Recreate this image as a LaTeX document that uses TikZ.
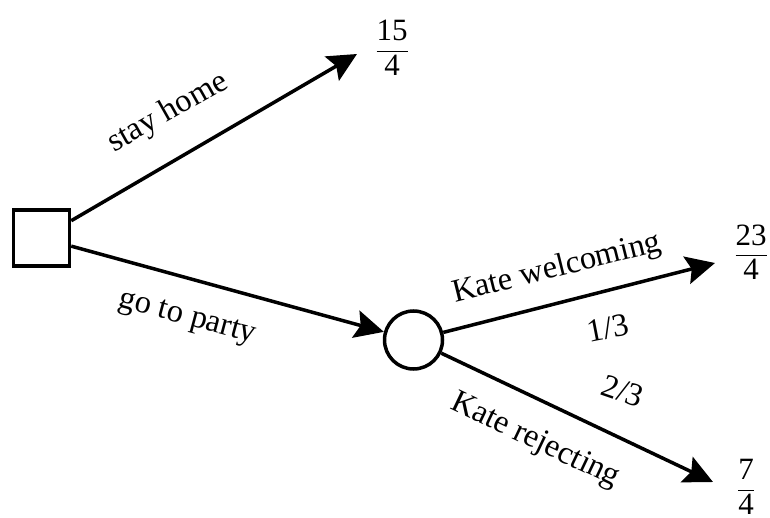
\documentclass[tikz,border=0pt]{standalone}
\usepackage{amsmath}
\usepackage{fontspec}
\setmainfont{Liberation Serif}
\usetikzlibrary{arrows.meta}
\begin{document}
\begin{tikzpicture}[x=1pt,y=1pt,
  every node/.style={font=\fontsize{32.5}{39}\selectfont},
  link/.style={line width=3.5pt},
  arr/.style={link,-{Stealth[length=29pt,width=28pt,inset=5pt]}},
  decision/.style={draw,line width=3.5pt,minimum size=56pt,inner sep=0pt},
  chance/.style={draw,circle,line width=3.5pt,minimum size=58pt,inner sep=0pt},
  lbl/.style={inner sep=0pt},
  payoff/.style={inner sep=0pt,font=\fontsize{31}{37}\selectfont}]
\useasboundingbox (0,0) rectangle (770,517);
\node[decision] (sq) at (41.5,279) {};
\node[chance] (ch) at (413.5,177) {};
\coordinate (t1) at (357,463);
\coordinate (t2) at (715,254);
\coordinate (t3) at (713,35);
\node[payoff] (f1) at (392,469) {$\dfrac{\textrm{15}}{\textrm{4}}$};
\node[payoff] (f2) at (751,265) {$\dfrac{\textrm{23}}{\textrm{4}}$};
\node[payoff] (f3) at (746,30) {$\dfrac{\textrm{7}}{\textrm{4}}$};
\draw[arr] (sq) -- (t1);
\draw[arr] (sq) -- (ch);
\draw[arr] (ch) -- (t2);
\draw[arr] (ch) -- (t3);
\node[lbl,rotate=29.5] (l1) at (168,404) {stay home};
\node[lbl,rotate=-15] (l2) at (187,198) {go to party};
\node[lbl,rotate=14] (l3) at (557,248) {Kate welcoming};
\node[lbl,rotate=11] (l4) at (608,189) {1/3};
\node[lbl,rotate=-19] (l5) at (623,126) {2/3};
\node[lbl,rotate=-25.5] (l6) at (535,76) {Kate rejecting};
\end{tikzpicture}
\end{document}
